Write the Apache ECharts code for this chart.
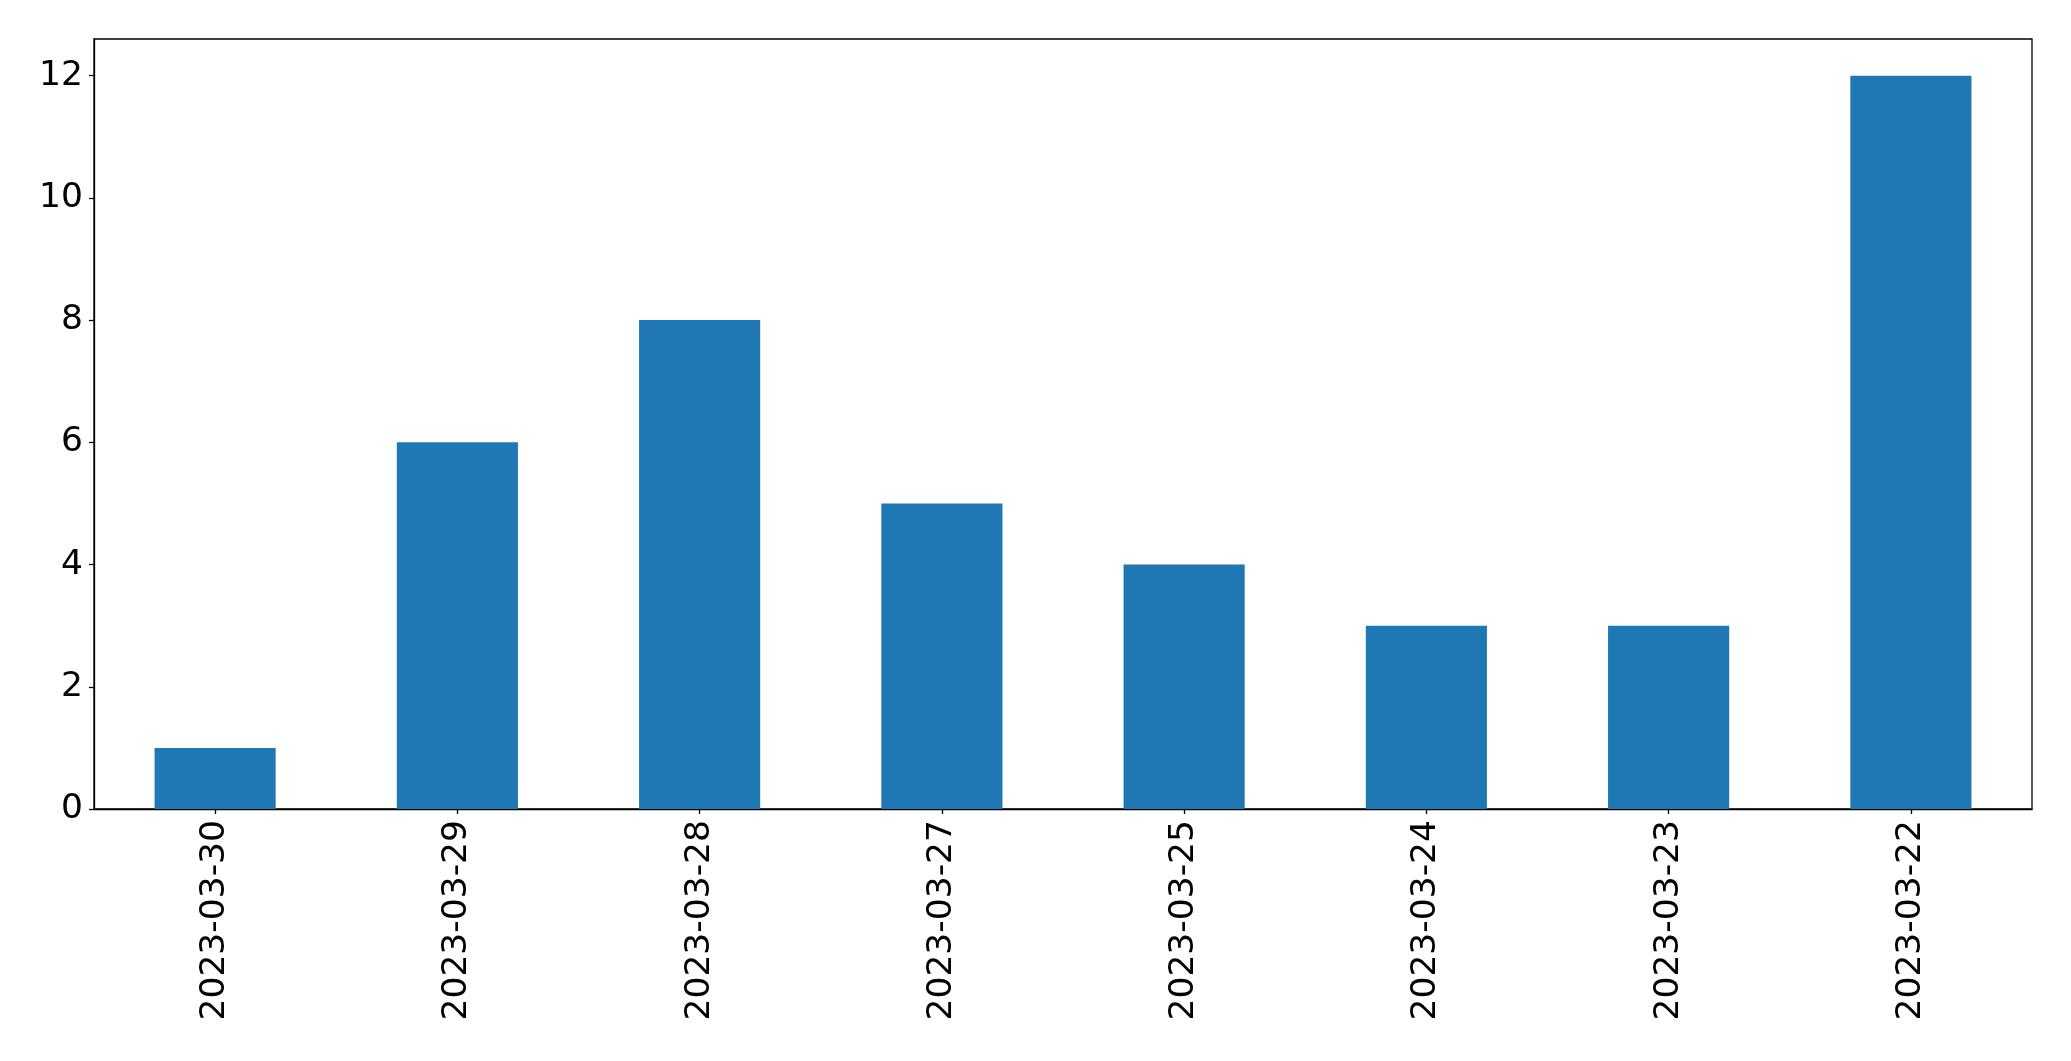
<!DOCTYPE html>
<html>
<head>
<meta charset="utf-8">
<script src="https://cdn.jsdelivr.net/npm/echarts@6/dist/echarts.min.js"></script>
<style>html,body{margin:0;padding:0;background:#fff;}#c{width:2071px;height:1061px;}</style>
</head>
<body>
<div id="c"></div>
<script>
const categories = ["2023-03-30","2023-03-29","2023-03-28","2023-03-27","2023-03-25","2023-03-24","2023-03-23","2023-03-22"];
const values = [1, 6, 8, 5, 4, 3, 3, 12];
const yTicks = [0, 2, 4, 6, 8, 10, 12];

const chart = echarts.init(document.getElementById('c'), null, {renderer: 'canvas'});
const font = 'DejaVu Sans';
chart.setOption({
  animation: false,
  backgroundColor: '#ffffff',
  grid: {left: 94, right: 39, top: 39, bottom: 252, show: true, borderColor: '#000', borderWidth: 1.3, backgroundColor: 'transparent'},
  xAxis: {
    type: 'category',
    data: categories,
    boundaryGap: true,
    axisLine: {show: true, lineStyle: {color: '#000', width: 1.3}},
    axisTick: {show: true, alignWithLabel: true, length: 5, lineStyle: {color: '#000', width: 1.3}},
    axisLabel: {rotate: 90, margin: 11, fontFamily: font, fontSize: 34.5, color: '#000', interval: 0},
    splitLine: {show: false}
  },
  yAxis: {
    type: 'value',
    min: 0,
    max: 12.6,
    interval: 2,
    axisLine: {show: true, lineStyle: {color: '#000', width: 1.3}},
    axisTick: {show: true, length: 5, lineStyle: {color: '#000', width: 1.3}, customValues: yTicks},
    axisLabel: {margin: 11, fontFamily: font, fontSize: 34.5, color: '#000', customValues: yTicks},
    splitLine: {show: false}
  },
  series: [{
    type: 'bar',
    data: values,
    barWidth: '50%',
    itemStyle: {color: '#1f77b4'}
  }]
});
</script>
</body>
</html>
